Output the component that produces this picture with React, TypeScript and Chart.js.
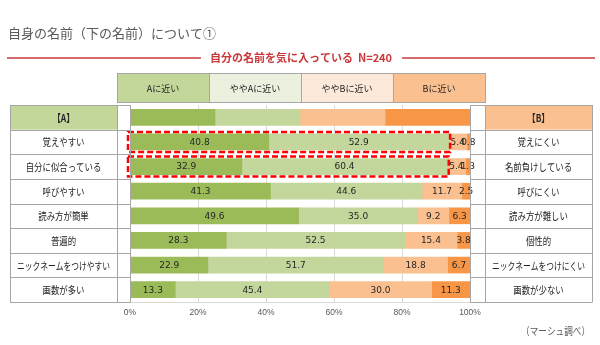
import React, { useEffect, useRef } from 'react';
import { Chart, registerables } from 'chart.js';

Chart.register(...registerables);

// ---------- data ----------
const TITLE = '自身の名前（下の名前）について①';
const SUBTITLE = '自分の名前を気に入っている  N=240';
const SOURCE_NOTE = '（マーシュ調べ）';
const SCALE_HEADERS = ['Aに近い', 'ややAに近い', 'ややBに近い', 'Bに近い'];
const LEFT_HEAD = '【A】';
const RIGHT_HEAD = '【B】';
const LEFT_LABELS = ['覚えやすい', '自分に似合っている', '呼びやすい', '読み方が簡単', '普遍的', 'ニックネームをつけやすい', '画数が多い'];
const RIGHT_LABELS = ['覚えにくい', '名前負けしている', '呼びにくい', '読み方が難しい', '個性的', 'ニックネームをつけにくい', '画数が少ない'];
const KEY_SHARES = [25, 25, 25, 25];
const CLOSE_TO_A = [40.8, 32.9, 41.3, 49.6, 28.3, 22.9, 13.3];
const SOMEWHAT_A = [52.9, 60.4, 44.6, 35.0, 52.5, 51.7, 45.4];
const SOMEWHAT_B = [5.4, 5.4, 11.7, 9.2, 15.4, 18.8, 30.0];
const CLOSE_TO_B = [0.8, 1.3, 2.5, 6.3, 3.8, 6.7, 11.3];
const X_TICK_STEP = 20;
const HIGHLIGHT_ROWS = [0, 1];

// ---------- layout / style ----------
const W = 600;
const H = 345;
const PLOT_L = 130;
const PLOT_R = 470;
const PLOT_T = 105;
const PLOT_B = 302;
const TABLE_L = 10;
const LEFT_SEP = 117;
const RIGHT_SEP = 485;
const TABLE_R = 592;
const HEAD_T = 73;
const HEAD_B = 102;
const BAR_COLORS = ['#9bbb59', '#c3d69b', '#fac090', '#f79646'];
const HEAD_COLORS = ['#c4d79b', '#ebf1de', '#fde9d9', '#fac090'];
const BORDER = '#a6a6a6';
const TEXT = '#262626';
const GRAY_TEXT = '#595959';
const RED = '#c8373a';
const CJK = "'Noto Sans CJK JP', sans-serif";

function cjkText(ctx: CanvasRenderingContext2D, text: string, x: number, y: number, size: number, color: string, squeeze = 1, maxW = 0, weight = 'normal', align: CanvasTextAlign = 'center') {
  ctx.font = `${weight} ${size}px ${CJK}`;
  ctx.fillStyle = color;
  ctx.textAlign = align;
  ctx.textBaseline = 'middle';
  const natural = ctx.measureText(text).width;
  let target = natural * squeeze;
  if (maxW && target > maxW) target = maxW;
  if (target < natural - 0.01) ctx.fillText(text, x, y, target);
  else ctx.fillText(text, x, y);
  return target;
}

function line(ctx: CanvasRenderingContext2D, x0: number, y0: number, x1: number, y1: number) {
  ctx.beginPath();
  ctx.moveTo(x0, y0);
  ctx.lineTo(x1, y1);
  ctx.stroke();
}

const framePlugin = {
  id: 'frame',
  beforeDraw(chart: any) {
    const ctx = chart.ctx as CanvasRenderingContext2D;
    const y = chart.scales.y;
    const rowH = (y.bottom - y.top) / chart.data.labels.length;
    ctx.save();
    ctx.fillStyle = '#ffffff';
    ctx.fillRect(0, 0, W, H);
    const bw = (RIGHT_SEP - LEFT_SEP) / SCALE_HEADERS.length;
    SCALE_HEADERS.forEach((_, i) => {
      ctx.fillStyle = HEAD_COLORS[i];
      ctx.fillRect(LEFT_SEP + i * bw, HEAD_T, bw, HEAD_B - HEAD_T);
    });
    const c0 = y.getPixelForValue(0);
    ctx.fillStyle = HEAD_COLORS[0];
    ctx.fillRect(TABLE_L, c0 - rowH / 2, LEFT_SEP - TABLE_L, rowH);
    ctx.fillStyle = HEAD_COLORS[3];
    ctx.fillRect(RIGHT_SEP, c0 - rowH / 2, TABLE_R - RIGHT_SEP, rowH);
    ctx.restore();
  },
  afterDatasetsDraw(chart: any) {
    const ctx = chart.ctx as CanvasRenderingContext2D;
    ctx.save();
    ctx.font = "9px 'DejaVu Sans', sans-serif";
    ctx.fillStyle = TEXT;
    ctx.textAlign = 'center';
    ctx.textBaseline = 'middle';
    chart.data.datasets.forEach((ds: any, di: number) => {
      const meta = chart.getDatasetMeta(di);
      meta.data.forEach((el: any, i: number) => {
        if (i === 0) return;
        const v = ds.data[i];
        ctx.fillText(v.toFixed(1), (el.x + el.base) / 2, el.y + 0.5);
      });
    });
    ctx.strokeStyle = '#ff0000';
    ctx.lineWidth = 2.5;
    ctx.setLineDash([6, 3]);
    HIGHLIGHT_ROWS.forEach((r) => {
      const a = chart.getDatasetMeta(0).data[r + 1];
      const b = chart.getDatasetMeta(1).data[r + 1];
      const left = a.base - 2.5;
      const right = b.x + 1.5;
      const top = a.y - a.height / 2 - 2;
      const bottom = a.y + a.height / 2 + 2;
      ctx.strokeRect(left, top, right - left, bottom - top);
    });
    ctx.restore();
  },
  afterDraw(chart: any) {
    const ctx = chart.ctx as CanvasRenderingContext2D;
    const y = chart.scales.y;
    const n = chart.data.labels.length;
    const rowH = (y.bottom - y.top) / n;
    ctx.save();
    cjkText(ctx, TITLE, 8, 33, 13, GRAY_TEXT, 1, 0, 'normal', 'left');
    const subW = cjkText(ctx, SUBTITLE, 301, 58, 11, RED, 1, 0, 'bold', 'center');
    ctx.strokeStyle = RED;
    ctx.lineWidth = 1.5;
    line(ctx, 7, 58, 301 - subW / 2 - 9, 58);
    line(ctx, 301 + subW / 2 + 10, 58, 595, 58);
    const bw = (RIGHT_SEP - LEFT_SEP) / SCALE_HEADERS.length;
    SCALE_HEADERS.forEach((t, i) => {
      ctx.strokeStyle = BORDER;
      ctx.lineWidth = 1;
      ctx.strokeRect(LEFT_SEP + i * bw + 0.5, HEAD_T + 0.5, bw, HEAD_B - HEAD_T);
      cjkText(ctx, t, LEFT_SEP + i * bw + bw / 2, (HEAD_T + HEAD_B) / 2 + 0.5, 9.5, TEXT, 0.95);
    });
    ctx.strokeStyle = BORDER;
    ctx.lineWidth = 1;
    for (let i = 0; i <= n; i++) {
      const yy = Math.round(y.top + i * rowH) + 0.5;
      line(ctx, TABLE_L, yy, PLOT_L + 0.5, yy);
      line(ctx, PLOT_R, yy, TABLE_R, yy);
    }
    [TABLE_L, LEFT_SEP, PLOT_L, PLOT_R, RIGHT_SEP, TABLE_R].forEach((x) => {
      line(ctx, x + 0.5, y.top, x + 0.5, y.bottom + 0.5);
    });
    const leftTexts = [LEFT_HEAD, ...LEFT_LABELS];
    const rightTexts = [RIGHT_HEAD, ...RIGHT_LABELS];
    for (let i = 0; i < n; i++) {
      const cy = y.getPixelForValue(i) + 0.5;
      cjkText(ctx, leftTexts[i], (TABLE_L + LEFT_SEP) / 2, cy, 10.5, TEXT, 0.8, 93, i === 0 ? 'bold' : 'normal');
      cjkText(ctx, rightTexts[i], (RIGHT_SEP + TABLE_R) / 2, cy, 10.5, TEXT, 0.8, 93, i === 0 ? 'bold' : 'normal');
    }
    cjkText(ctx, SOURCE_NOTE, 590, 331, 10.5, GRAY_TEXT, 0.82, 0, 'normal', 'right');
    ctx.restore();
  },
};

export default function App() {
  const ref = useRef<HTMLCanvasElement | null>(null);
  useEffect(() => {
    if (!ref.current) return;
    const labels = [LEFT_HEAD, ...LEFT_LABELS];
    const series = [CLOSE_TO_A, SOMEWHAT_A, SOMEWHAT_B, CLOSE_TO_B];
    const chart = new Chart(ref.current, {
      type: 'bar',
      data: {
        labels,
        datasets: series.map((s, k) => ({
          label: SCALE_HEADERS[k],
          data: [KEY_SHARES[k], ...s],
          backgroundColor: BAR_COLORS[k],
          borderWidth: 0,
          barThickness: 16,
        })),
      },
      options: {
        indexAxis: 'y',
        responsive: false,
        animation: false,
        events: [],
        layout: { padding: { left: PLOT_L, right: W - PLOT_R, top: PLOT_T, bottom: 0 } },
        plugins: { legend: { display: false }, tooltip: { enabled: false }, title: { display: false } },
        scales: {
          x: {
            type: 'linear',
            stacked: true,
            min: 0,
            max: 100,
            afterFit: (s: any) => { s.height = H - PLOT_B; },
            grid: { color: '#d9d9d9', drawTicks: false },
            border: { display: true, color: '#d9d9d9' },
            ticks: {
              stepSize: X_TICK_STEP,
              padding: 6,
              color: GRAY_TEXT,
              font: { family: "'Liberation Sans', sans-serif", size: 8.5 },
              callback: (v: any) => `${v}%`,
            },
          },
          y: { type: 'category', stacked: true, display: false },
        },
      },
      plugins: [framePlugin],
    } as any);
    return () => chart.destroy();
  }, []);
  return (
    <div style={{ position: 'fixed', left: 0, top: 0, width: W, height: H, background: '#fff' }}>
      <canvas ref={ref} width={W} height={H} style={{ display: 'block', width: W, height: H }} />
    </div>
  );
}
